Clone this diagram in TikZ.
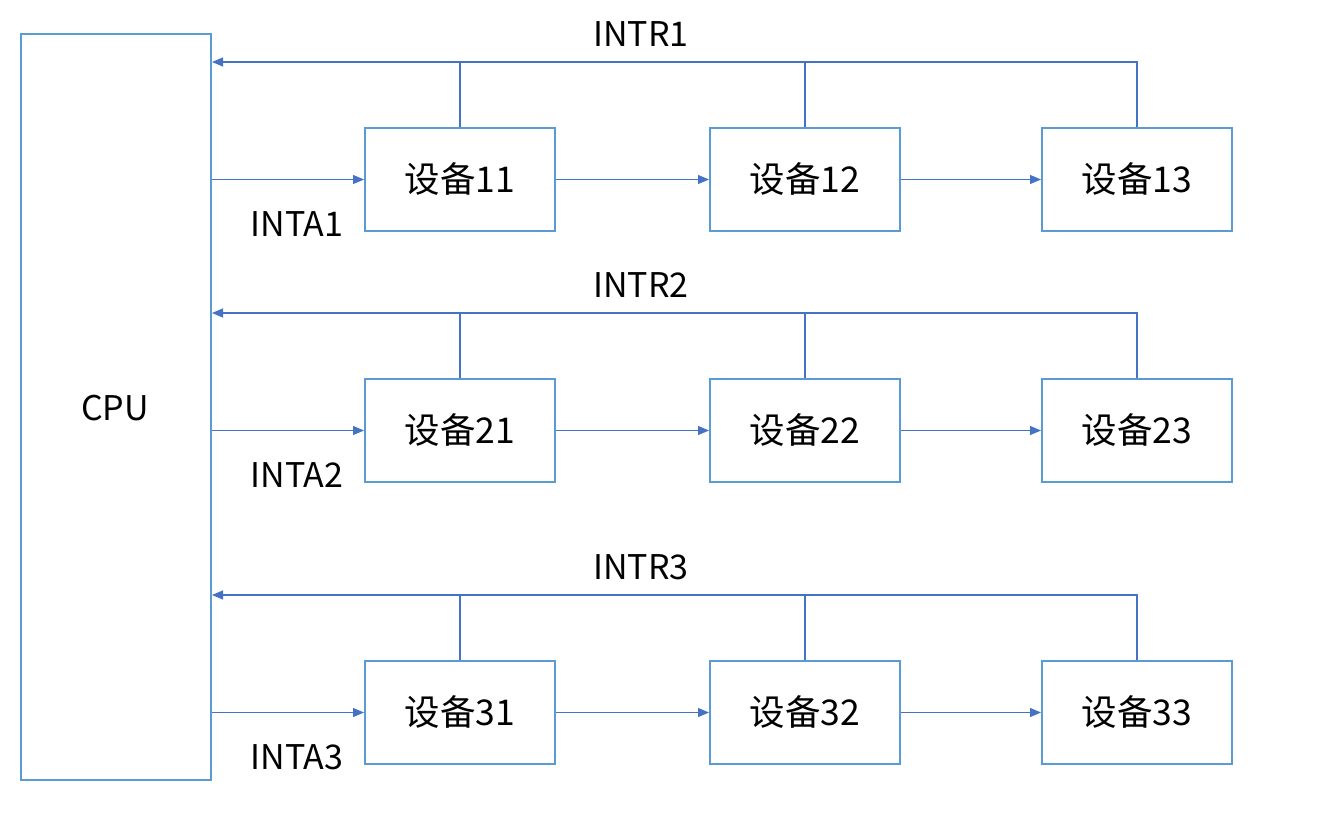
\documentclass[tikz,border=0pt]{standalone}
\usepackage{fontspec}
\setmainfont{Noto Sans CJK SC}
\usetikzlibrary{arrows.meta}
\definecolor{boxc}{HTML}{5B9BD5}
\definecolor{linec}{HTML}{4472C4}
\begin{document}
\begin{tikzpicture}[x=1pt,y=-1pt,
  dev/.style={draw=boxc,line width=2pt,minimum width=190pt,minimum height=103pt,inner sep=0pt,font=\fontsize{35.5}{38}\selectfont},
  lab/.style={font=\fontsize{34}{36}\selectfont,inner sep=0pt},
  conn/.style={draw=linec,line width=1.1pt},
  arr/.style={conn,-{Triangle[length=11pt,width=9pt]}}]
\useasboundingbox (0,0) rectangle (1320,835);
\node[draw=boxc,line width=2pt,minimum width=190pt,minimum height=746pt,inner sep=0pt,anchor=north west] (cpu) at (20,33) {};
\node[lab] (cpulab) at (115,408) {CPU};
\foreach \r/\y/\ry in {1/179.5/62, 2/430.5/313, 3/712.5/595}{
  \node[dev] (d\r1) at (460,\y) {设备\r1};
  \node[dev] (d\r2) at (805,\y) {设备\r2};
  \node[dev] (d\r3) at (1137,\y) {设备\r3};
  \coordinate (cin\r) at (cpu.east |- d\r1.west);
  \coordinate (cr\r) at (cpu.east |- 0,\ry);
  \coordinate (t\r1) at (460,\ry);
  \coordinate (t\r2) at (805,\ry);
  \coordinate (t\r3) at (1137,\ry);
  \draw[arr] (cin\r) -- (d\r1.west);
  \draw[arr] (d\r1.east) -- (d\r2.west);
  \draw[arr] (d\r2.east) -- (d\r3.west);
  \draw[conn] (d\r3.north) -- (t\r3) -- (t\r2);
  \draw[conn] (d\r2.north) -- (t\r2) -- (t\r1);
  \draw[arr] (d\r1.north) -- (t\r1) -- (cr\r);
  \node[lab] (intr\r) at (641,\ry-28) {INTR\r};
  \node[lab] (inta\r) at (297,\y+45) {INTA\r};
}
\end{tikzpicture}
\end{document}
